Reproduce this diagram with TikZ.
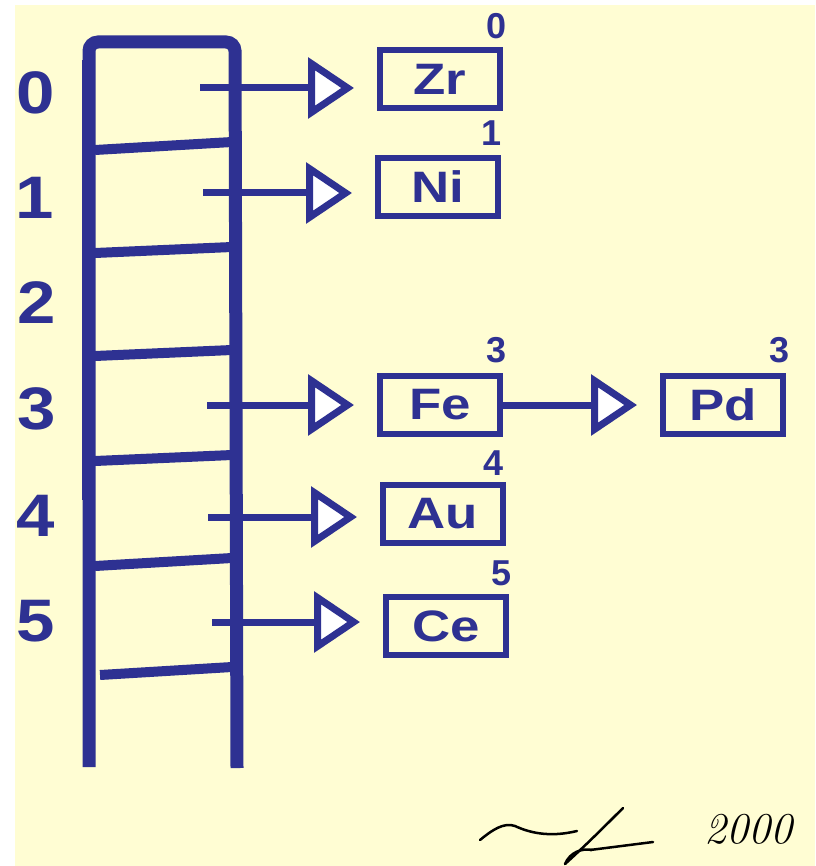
\documentclass[tikz,border=0pt]{standalone}
\usepackage{fontspec}
\newfontfamily\sansb{Liberation Sans}
\newfontfamily\boxfont[FakeStretch=1.2]{Liberation Sans}
\newfontfamily\idxfont[FakeStretch=1.15]{Liberation Sans}
\usetikzlibrary{arrows.meta}
\definecolor{bg}{RGB}{255,253,211}
\definecolor{ink}{RGB}{46,49,146}
\tikzset{
  cell/.style={draw=ink, line width=6pt, minimum width=120pt, minimum height=58pt, inner sep=0pt,
    text=ink, font=\boxfont\bfseries\fontsize{44}{44}\selectfont},
  idx/.style={text=ink, inner sep=0pt, font=\idxfont\bfseries\fontsize{60}{60}\selectfont},
  sup/.style={text=ink, inner sep=0pt, font=\sansb\bfseries\fontsize{36}{36}\selectfont},
  ptr/.style={draw=ink, line width=7pt, shorten >=23pt,
    -{Triangle[length=46pt, width=60pt, fill=white, line width=7pt]}},
  frame/.style={draw=ink, line width=13pt, rounded corners=9pt},
  divider/.style={draw=ink, line width=10pt},
  sig/.style={draw=black, line width=2.5pt, line cap=round, line join=round}
}
\begin{document}
\begin{tikzpicture}[x=1pt,y=-1pt]
\useasboundingbox (0,0) rectangle (815,866);
\fill[white] (0,0) rectangle (815,866);
\fill[bg] (15,5) rectangle (815,866);

% table column
\draw[frame] (89,767) -- (89,42) -- (235,42) -- (237,768);
\draw[ink, line width=4pt] (84,60) -- (84,500);
\draw[divider] (95,150) -- (232,142);
\draw[divider] (95,253) -- (232,247);
\draw[divider] (95,356) -- (232,350);
\draw[divider] (95,461) -- (232,455);
\draw[divider] (95,566) -- (232,558);
\draw[divider] (100,675) -- (232,667);

% index labels
\node[idx] (i0) at (36,93) {0};
\node[idx] (i1) at (35,198) {1};
\node[idx] (i2) at (37,303) {2};
\node[idx] (i3) at (37,409) {3};
\node[idx] (i4) at (36,516) {4};
\node[idx] (i5) at (36,621) {5};

% element boxes
\node[cell] (Zr) at (440,79) {Zr};
\node[cell] (Ni) at (438,187) {Ni};
\node[cell] (Fe) at (440,405) {Fe};
\node[cell] (Pd) at (723,405) {Pd};
\node[cell] (Au) at (443,514) {Au};
\node[cell] (Ce) at (446,626) {Ce};

% superscript labels
\node[sup] (k0) at (497,26) {0};
\node[sup] (k1) at (492,133) {1};
\node[sup] (k3) at (497,350) {3};
\node[sup] (k3b) at (779,350) {3};
\node[sup] (k4) at (494,463) {4};
\node[sup] (k5) at (502,573) {5};

% pointer starts
\coordinate (s0) at (200,88);
\coordinate (s1) at (203,193);
\coordinate (s3) at (207,405);
\coordinate (s4) at (208,517);
\coordinate (s5) at (212,622);

\draw[ptr] (s0) -- (s0 -| Zr.west);
\draw[ptr] (s1) -- (s1 -| Ni.west);
\draw[ptr] (s3) -- (s3 -| Fe.west);
\draw[ptr] (s4) -- (s4 -| Au.west);
\draw[ptr] (s5) -- (s5 -| Ce.west);
\draw[ptr] (Fe.east) -- (Pd.west);

% signature
\draw[sig] (480,840) .. controls (492,830) and (504,822) .. (515,826)
  .. controls (528,832) and (548,838) .. (577,831);
\draw[sig] (623,808) .. controls (605,826) and (585,846) .. (565,864);
\draw[sig] (565,864) .. controls (570,852) and (582,848) .. (592,850);
\draw[sig] (590,850) -- (653,842);
\node[inner sep=0pt, font=\itshape\fontsize{44}{44}\selectfont] (yr) at (748,829) {2000};
\end{tikzpicture}
\end{document}
